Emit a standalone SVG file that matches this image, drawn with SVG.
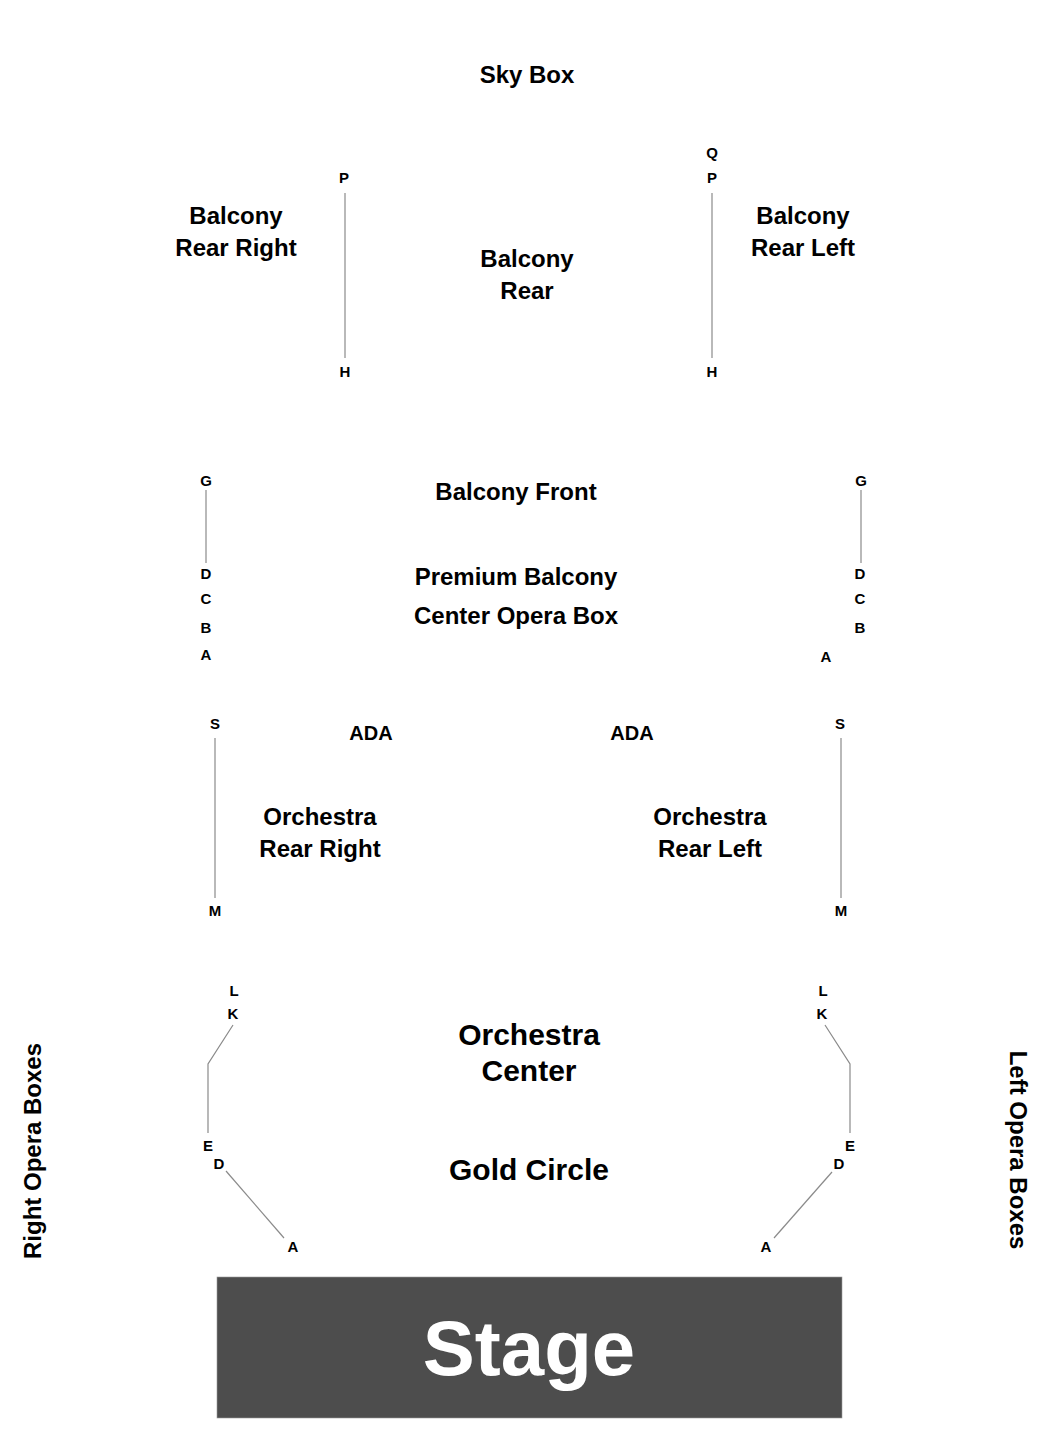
<svg xmlns="http://www.w3.org/2000/svg" width="1050" height="1450" viewBox="0 0 1050 1450">
<style>
text{font-family:"Liberation Sans",Arial,sans-serif;font-weight:bold;fill:#000;text-anchor:middle}
.sec{font-size:24px}
.big{font-size:30px}
.ada{font-size:20px}
.row{font-size:15px}
.ln{stroke:#8a8a8a;stroke-width:1.2;fill:none}
</style>
<rect width="1050" height="1450" fill="#fff"/>
<g id="connectors">
<line class="ln" x1="345" y1="193" x2="345" y2="358"/>
<line class="ln" x1="712" y1="193" x2="712" y2="358"/>
<line class="ln" x1="206" y1="490" x2="206" y2="563"/>
<line class="ln" x1="861" y1="490" x2="861" y2="563"/>
<line class="ln" x1="215" y1="738" x2="215" y2="898"/>
<line class="ln" x1="841" y1="738" x2="841" y2="898"/>
<polyline class="ln" points="233,1025 208,1064 208,1133"/>
<polyline class="ln" points="825,1025 850,1064 850,1133"/>
<line class="ln" x1="226" y1="1171" x2="284" y2="1238"/>
<line class="ln" x1="832" y1="1172" x2="774" y2="1238"/>
</g>
<g id="sky-box"><text class="sec" x="527" y="83">Sky Box</text></g>
<g id="balcony-rear-right"><text class="sec" x="236" y="224">Balcony</text><text class="sec" x="236" y="256">Rear Right</text></g>
<g id="balcony-rear"><text class="sec" x="527" y="267">Balcony</text><text class="sec" x="527" y="299">Rear</text></g>
<g id="balcony-rear-left"><text class="sec" x="803" y="224">Balcony</text><text class="sec" x="803" y="256">Rear Left</text></g>
<g id="rows-balcony-rear">
<text class="row" x="344" y="183">P</text>
<text class="row" x="345" y="377">H</text>
<text class="row" x="712" y="158">Q</text>
<text class="row" x="712" y="183">P</text>
<text class="row" x="712" y="377">H</text>
</g>
<g id="balcony-front"><text class="sec" x="516" y="500">Balcony Front</text></g>
<g id="premium-balcony"><text class="sec" x="516" y="585">Premium Balcony</text></g>
<g id="center-opera-box"><text class="sec" x="516" y="624">Center Opera Box</text></g>
<g id="rows-balcony-front">
<text class="row" x="206" y="486">G</text>
<text class="row" x="206" y="579">D</text>
<text class="row" x="206" y="604">C</text>
<text class="row" x="206" y="633">B</text>
<text class="row" x="206" y="660">A</text>
<text class="row" x="861" y="486">G</text>
<text class="row" x="860" y="579">D</text>
<text class="row" x="860" y="604">C</text>
<text class="row" x="860" y="633">B</text>
<text class="row" x="826" y="662">A</text>
</g>
<g id="ada-right"><text class="ada" x="371" y="740">ADA</text></g>
<g id="ada-left"><text class="ada" x="632" y="740">ADA</text></g>
<g id="orchestra-rear-right"><text class="sec" x="320" y="825">Orchestra</text><text class="sec" x="320" y="857">Rear Right</text></g>
<g id="orchestra-rear-left"><text class="sec" x="710" y="825">Orchestra</text><text class="sec" x="710" y="857">Rear Left</text></g>
<g id="rows-orchestra-rear">
<text class="row" x="215" y="729">S</text>
<text class="row" x="215" y="916">M</text>
<text class="row" x="840" y="729">S</text>
<text class="row" x="841" y="916">M</text>
</g>
<g id="orchestra-center"><text class="big" x="529" y="1045">Orchestra</text><text class="big" x="529" y="1081">Center</text></g>
<g id="gold-circle"><text class="big" x="529" y="1180">Gold Circle</text></g>
<g id="rows-orchestra">
<text class="row" x="234" y="996">L</text>
<text class="row" x="233" y="1019">K</text>
<text class="row" x="208" y="1151">E</text>
<text class="row" x="219" y="1169">D</text>
<text class="row" x="293" y="1252">A</text>
<text class="row" x="823" y="996">L</text>
<text class="row" x="822" y="1019">K</text>
<text class="row" x="850" y="1151">E</text>
<text class="row" x="839" y="1169">D</text>
<text class="row" x="766" y="1252">A</text>
</g>
<g id="right-opera-boxes"><text class="sec" transform="translate(41,1151) rotate(-90)" x="0" y="0">Right Opera Boxes</text></g>
<g id="left-opera-boxes"><text class="sec" transform="translate(1010,1150) rotate(90)" x="0" y="0">Left Opera Boxes</text></g>
<g id="stage">
<rect x="217" y="1277" width="625" height="141" fill="#4d4d4d" stroke="#9a9a9a" stroke-width="0.6"/>
<text x="529" y="1375" style="font-size:78px;fill:#fff">Stage</text>
</g>
</svg>
